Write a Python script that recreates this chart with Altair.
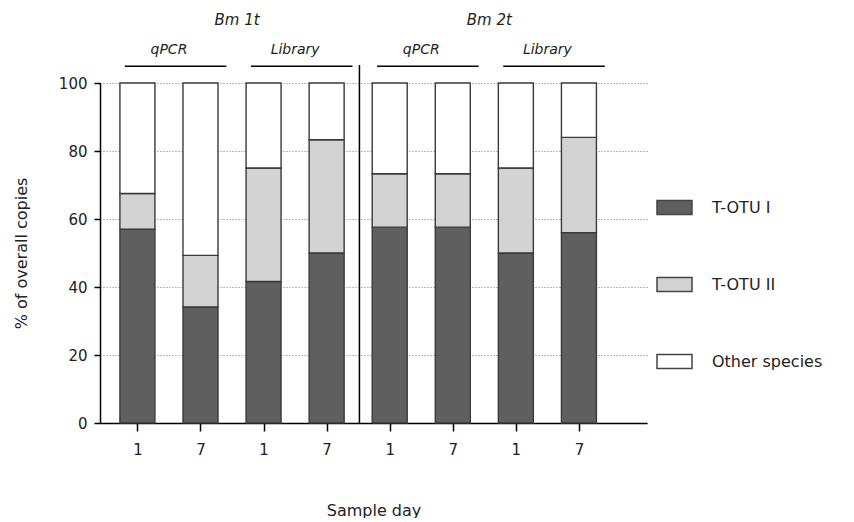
import altair as alt
import pandas as pd

groups = ["Bm 1t", "Bm 2t"]
methods = ["qPCR", "Library"]
days = ["1", "7", "1", "7", "1", "7", "1", "7"]
series = ["T-OTU I", "T-OTU II", "Other species"]
totu1 = [57.0, 34.1, 41.6, 50.0, 57.6, 57.6, 50.0, 56.0]
totu2 = [10.5, 15.2, 33.4, 33.3, 15.7, 15.7, 25.0, 28.0]
other = [32.5, 50.7, 25.0, 16.7, 26.7, 26.7, 25.0, 16.0]
y_ticks = [0, 20, 40, 60, 80, 100]

colors = ["#5f5f5f", "#d3d3d3", "#ffffff"]
FONT = "DejaVu Sans"

rows = []
for i in range(len(days)):
    for k, (name, vals) in enumerate(zip(series, [totu1, totu2, other])):
        rows.append({"pos": i, "series": name, "k": k, "value": vals[i]})
df = pd.DataFrame(rows)

n_per_group = len(days) // len(groups)
n_per_method = n_per_group // len(methods)
brk = []
for g in range(len(groups)):
    for m, meth in enumerate(methods):
        start = g * n_per_group + m * n_per_method
        end = start + n_per_method - 1
        brk.append({"pos": start - 0.2, "x2": end + 0.41, "c": (start + end) / 2, "label": meth})
brk_df = pd.DataFrame(brk)
grp_df = pd.DataFrame([
    {"c": g * n_per_group + (n_per_group - 1) / 2 + 0.08, "label": name} for g, name in enumerate(groups)
])
div_df = pd.DataFrame([{"pos": n_per_group - 0.48}])

xscale = alt.Scale(domain=[-0.514, len(days) - 0.0], nice=False, zero=False)
yscale = alt.Scale(domain=[0, 100], nice=False)
label_expr = "[" + ",".join("'%s'" % d for d in days) + "][datum.value]"

xaxis = alt.Axis(values=list(range(len(days))), labelExpr=label_expr, title="Sample day",
                 tickSize=8, labelPadding=11, titlePadding=45, grid=False,
                 domainColor="#000", tickColor="#000", domainWidth=1.5, tickWidth=1.5)
yaxis = alt.Axis(values=y_ticks, title="% of overall copies", tickSize=6, grid=True,
                 gridDash=[1, 2], gridColor="#777", domainColor="#000", tickColor="#000",
                 domainWidth=1.5, tickWidth=1.5, labelPadding=7, titlePadding=29)

bars = alt.Chart(df).mark_bar(size=35, stroke="#3a3a3a", strokeWidth=1.4).encode(
    x=alt.X("pos:Q", scale=xscale, axis=xaxis),
    y=alt.Y("value:Q", stack="zero", scale=yscale, axis=yaxis),
    color=alt.Color("series:N", scale=alt.Scale(domain=series, range=colors),
                    legend=alt.Legend(title=None, orient="none", legendX=556, legendY=106,
                                      symbolType="M-1,-0.4H1V0.4H-1Z", symbolSize=1225,
                                      symbolStrokeColor="#444", symbolStrokeWidth=1.5,
                                      symbolOpacity=1, rowPadding=48, labelOffset=19,
                                      labelFontSize=16, labelFont=FONT, labelColor="#222")),
    order=alt.Order("k:Q", sort="ascending"),
)

divider = alt.Chart(div_df).mark_rule(color="#000", strokeWidth=1.5).encode(
    x=alt.X("pos:Q", scale=xscale, axis=xaxis),
    y=alt.datum(0, scale=yscale, axis=yaxis),
    y2=alt.datum(105.3),
)

brackets = alt.Chart(brk_df).mark_rule(color="#000", strokeWidth=1.5).encode(
    x=alt.X("pos:Q", scale=xscale, axis=xaxis),
    x2="x2:Q",
    y=alt.datum(104.9, scale=yscale, axis=yaxis),
)

meth_text = alt.Chart(brk_df).mark_text(font=FONT, fontSize=14, fontStyle="italic", color="#222").encode(
    x=alt.X("c:Q", scale=xscale, axis=xaxis),
    y=alt.datum(109.6, scale=yscale, axis=yaxis),
    text="label:N",
)

grp_text = alt.Chart(grp_df).mark_text(font=FONT, fontSize=15, fontStyle="italic", color="#222").encode(
    x=alt.X("c:Q", scale=xscale, axis=xaxis),
    y=alt.datum(118.4, scale=yscale, axis=yaxis),
    text="label:N",
)

chart = alt.layer(bars, divider, brackets, meth_text, grp_text).properties(
    width=547, height=340, padding={"left": 5, "top": 5, "right": 0, "bottom": 0}
).configure_view(stroke=None).configure_axis(
    labelFont=FONT, titleFont=FONT, labelFontSize=15, titleFontSize=16,
    labelColor="#222", titleColor="#222", titleFontWeight="normal"
)

chart.save("out.html", embed_options={"renderer": "svg", "actions": False})
